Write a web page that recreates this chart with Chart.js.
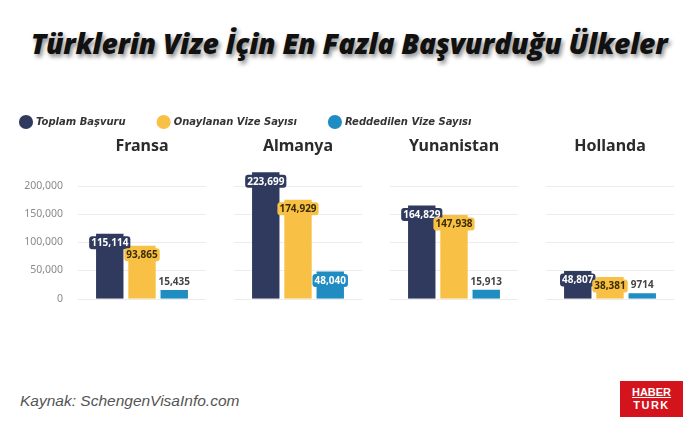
<!DOCTYPE html>
<html lang="tr">
<head>
<meta charset="utf-8">
<title>Türklerin Vize İçin En Fazla Başvurduğu Ülkeler</title>
<script src="https://cdn.jsdelivr.net/npm/chart.js@4.4.1/dist/chart.umd.min.js"></script>
<style>
  html, body { margin: 0; padding: 0; background: #fff; }
  body { width: 698px; height: 436px; position: relative; overflow: hidden; font-family: "Noto Sans", sans-serif; }
  h1 {
    position: absolute; left: 0; right: 0; top: 24px; margin: 0;
    text-align: center; font-family: "Open Sans", sans-serif; font-weight: 800; font-style: italic;
    font-size: 28.3px; color: #111; letter-spacing: -0.3px;
    text-shadow: 2px 3px 4px rgba(0,0,0,0.45);
  }
  #chartWrap { position: absolute; left: 0; top: 76px; width: 698px; height: 230px; }
  .source { position: absolute; left: 20px; top: 392px; font-family: "Liberation Sans", Arial, sans-serif; font-style: italic; font-size: 15.5px; color: #555; }
  .logo {
    position: absolute; left: 620px; top: 381px; width: 63px; height: 36px; background: #d3141c;
    color: #fff; font-family: "Liberation Sans", Arial, sans-serif; font-weight: bold; font-size: 11px;
    text-align: center; line-height: 13px; padding-top: 5px; box-sizing: border-box;
  }
  .logo span { display: block; }
  .logo .top { text-decoration: underline; }
  .logo .bot { letter-spacing: 1.5px; }
</style>
</head>
<body>
<h1>Türklerin Vize İçin En Fazla Başvurduğu Ülkeler</h1>
<div id="chartWrap"><canvas id="visaChart"></canvas></div>
<div class="source">Kaynak: SchengenVisaInfo.com</div>
<div class="logo"><span class="top">HABER</span><span class="bot">TURK</span></div>

<script>
// --- DATA ---
const ulkeler = ['Fransa', 'Almanya', 'Yunanistan', 'Hollanda'];
const toplamBasvuru = [115114, 223699, 164829, 48807];
const onaylanan = [93865, 174929, 147938, 38381];
const reddedilen = [15435, 48040, 15913, 9714];
const yTicks = [0, 50000, 100000, 150000, 200000];

const COLORS = { toplam: '#2f3a5e', onay: '#f8c146', red: '#1f8cc2' };

function formatSayi(v) {
    return v >= 10000 ? v.toLocaleString('en-US') : String(v);
}

// gridlines drawn per country panel, with gaps in between
const panelGrid = {
    id: 'panelGrid',
    beforeDatasetsDraw(chart) {
        const { ctx, scales: { x, y } } = chart;
        ctx.save();
        ctx.strokeStyle = '#ececec';
        ctx.lineWidth = 1;
        yTicks.forEach(v => {
            const py = Math.round(y.getPixelForValue(v)) + 0.5;
            ulkeler.forEach((u, i) => {
                const cx = x.getPixelForValue(i);
                ctx.beginPath();
                ctx.moveTo(cx - 64, py);
                ctx.lineTo(cx + 64, py);
                ctx.stroke();
            });
        });
        ctx.restore();
    }
};

// value labels: boxed on the bar top, plain text above small bars
const barLabels = {
    id: 'barLabels',
    afterDatasetsDraw(chart) {
        const ctx = chart.ctx;
        ctx.save();
        ctx.font = 'bold 10px "Noto Sans", sans-serif';
        ctx.textAlign = 'center';
        ctx.textBaseline = 'middle';
        chart.data.datasets.forEach((ds, di) => {
            const meta = chart.getDatasetMeta(di);
            meta.data.forEach((bar, i) => {
                const val = ds.data[i];
                const txt = formatSayi(val);
                const w = ctx.measureText(txt).width + 4;
                if (di === 2 && val < 20000) {
                    ctx.fillStyle = '#444';
                    ctx.fillText(txt, bar.x, bar.y - 8);
                    return;
                }
                const cy = bar.y + 9;
                ctx.fillStyle = ds.backgroundColor;
                ctx.beginPath();
                ctx.roundRect(bar.x - w / 2, cy - 6.5, w, 13, 3);
                ctx.fill();
                ctx.fillStyle = di === 1 ? '#3b2c00' : '#fff';
                ctx.fillText(txt, bar.x, cy + 0.5);
            });
        });
        ctx.restore();
    }
};

function initChart() {
    const ctx = document.getElementById('visaChart');
    new Chart(ctx, {
        type: 'bar',
        data: {
            labels: ulkeler,
            datasets: [
                { label: 'Toplam Başvuru', data: toplamBasvuru, backgroundColor: COLORS.toplam },
                { label: 'Onaylanan Vize Sayısı', data: onaylanan, backgroundColor: COLORS.onay },
                { label: 'Reddedilen Vize Sayısı', data: reddedilen, backgroundColor: COLORS.red }
            ]
        },
        options: {
            responsive: true, maintainAspectRatio: false, animation: false,
            datasets: { bar: { barPercentage: 0.85, categoryPercentage: 0.62 } },
            layout: { padding: { left: -12, right: 10, top: 8, bottom: 6 } },
            plugins: {
                tooltip: { enabled: false },
                legend: {
                    position: 'top', align: 'start',
                    labels: {
                        usePointStyle: true, pointStyle: 'circle', boxWidth: 10, boxHeight: 10, padding: 33,
                        color: '#333', font: { family: '"DejaVu Sans", sans-serif', size: 10, style: 'italic', weight: 'bold' }
                    }
                }
            },
            scales: {
                x: {
                    position: 'top',
                    grid: { display: false }, border: { display: false },
                    ticks: { color: '#2b2b2b', padding: 0, font: { family: '"Noto Sans", sans-serif', size: 16, weight: 'bold' } }
                },
                y: {
                    min: 0, max: 238000,
                    grid: { display: false, drawTicks: false }, border: { display: false },
                    afterBuildTicks: scale => { scale.ticks = yTicks.map(v => ({ value: v })); },
                    afterFit: scale => { scale.width = 76; },
                    ticks: { color: '#8a8a8a', padding: 1, font: { family: '"Noto Sans", sans-serif', size: 10.5 }, callback: v => v.toLocaleString('en-US') }
                }
            }
        },
        plugins: [panelGrid, barLabels]
    });
}

window.addEventListener('DOMContentLoaded', initChart);
</script>
</body>
</html>
